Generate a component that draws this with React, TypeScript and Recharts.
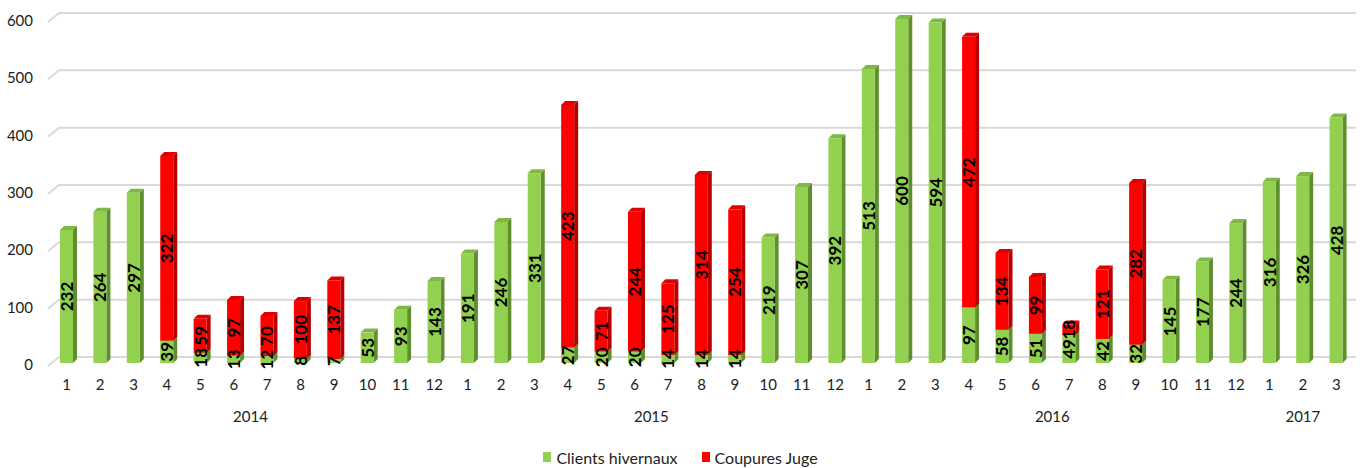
import { Bar, BarChart, CartesianGrid, LabelList, Legend, XAxis, YAxis } from "recharts";

// months shown on the axis, grouped by year
const years = ["2014", "2015", "2016", "2017"];
const monthsPerYear = [12, 12, 12, 3];

const clientsHivernaux = [
  232, 264, 297, 39, 18, 13, 12, 8, 7, 53, 93, 143,
  191, 246, 331, 27, 20, 20, 14, 14, 14, 219, 307, 392,
  513, 600, 594, 97, 58, 51, 49, 42, 32, 145, 177, 244,
  316, 326, 428,
];
const coupuresJuge = [
  0, 0, 0, 322, 59, 97, 70, 100, 137, 0, 0, 0,
  0, 0, 0, 423, 71, 244, 125, 314, 254, 0, 0, 0,
  0, 0, 0, 472, 134, 99, 18, 121, 282, 0, 0, 0,
  0, 0, 0,
];
const yTicks = [0, 100, 200, 300, 400, 500, 600];

const data: any[] = [];
years.forEach((year, yi) => {
  for (let m = 1; m <= monthsPerYear[yi]; m++) {
    const i = data.length;
    data.push({
      key: `${year}-${m}`,
      month: String(m),
      year,
      pos: m - 1,
      count: monthsPerYear[yi],
      clients: clientsHivernaux[i],
      coupures: coupuresJuge[i] || null,
    });
  }
});

// the chart fills the whole page (pinned to the top-left corner)
const W = 1360;
const H = 468;
const margin = { top: 19, right: 7, left: 8, bottom: 0 };
const Y_AXIS_W = 42;
const step = (W - margin.left - margin.right - Y_AXIS_W) / data.length;
const DEPTH = 4;
const font = "Lato, 'Open Sans', sans-serif";

const box = (front: string, side: string, top: string) => (props: any) => {
  const { x, y, width, height } = props;
  if (!height || height <= 0) return null;
  const d = DEPTH;
  return (
    <g>
      <polygon
        points={`${x},${y} ${x + d},${y - d} ${x + width + d},${y - d} ${x + width},${y}`}
        fill={top}
      />
      <polygon
        points={`${x + width},${y} ${x + width + d},${y - d} ${x + width + d},${y + height - d} ${x + width},${y + height}`}
        fill={side}
      />
      <rect x={x} y={y} width={width} height={height} fill={front} />
    </g>
  );
};

const ValueLabel = (props: any) => {
  const { x, y, width, height, value } = props;
  if (!value) return null;
  const cx = x + width / 2;
  const cy = y + height / 2;
  return (
    <text
      x={cx}
      y={cy}
      transform={`rotate(-90 ${cx} ${cy})`}
      textAnchor="middle"
      dominantBaseline="central"
      fontFamily={font}
      fontWeight={700}
      fontSize={17}
      fill="#000"
    >
      {value}
    </text>
  );
};

const MonthTick = (props: any) => {
  const { x, y, payload, index } = props;
  const row = data[index];
  const yearX = x + ((row.count - 1) / 2 - row.pos) * step;
  return (
    <g>
      <text x={x} y={y + 13} textAnchor="middle" dominantBaseline="central" fontFamily={font} fontSize={15} fill="#222">
        {payload.value}
      </text>
      {row.pos === 0 && (
        <text x={yearX} y={y + 45} textAnchor="middle" dominantBaseline="central" fontFamily={font} fontSize={15} fill="#222">
          {row.year}
        </text>
      )}
    </g>
  );
};

const ValueTick = (props: any) => {
  const { x, y, payload } = props;
  return (
    <text x={x - 9} y={y + 1} textAnchor="end" dominantBaseline="central" fontFamily={font} fontSize={15} fill="#222">
      {payload.value}
    </text>
  );
};

const GridLine = (props: any) => {
  const { x1, x2, y1 } = props;
  const by = y1 - 6;
  return (
    <g key={`g-${y1}`}>
      <line x1={x1 - 2} y1={y1 + 3} x2={x1 + 9} y2={by} stroke="#d9d9d9" strokeWidth={2} />
      <line x1={x1 + 9} y1={by} x2={x2 + 3} y2={by} stroke="#d9d9d9" strokeWidth={2} />
    </g>
  );
};

const LegendContent = () => (
  <div
    style={{
      display: "flex",
      justifyContent: "center",
      alignItems: "center",
      height: 20,
      fontFamily: font,
      fontSize: 16,
      color: "#222",
    }}
  >
    {[
      { name: "Clients hivernaux", color: "#92d050" },
      { name: "Coupures Juge", color: "#ff0000" },
    ].map((it, i) => (
      <span key={it.name} style={{ display: "inline-flex", alignItems: "center", marginLeft: i ? 24 : 0 }}>
        <span style={{ width: 8, height: 10, background: it.color, display: "inline-block", marginRight: 5 }} />
        {it.name}
      </span>
    ))}
  </div>
);

export default function App() {
  return (
    <div style={{ position: "absolute", left: 0, top: 0, width: W, height: H, overflow: "hidden" }}>
      <BarChart width={W} height={H} data={data} margin={margin} barSize={13}>
        <CartesianGrid vertical={false} horizontal={GridLine as any} />
        <XAxis
          dataKey="key"
          height={85}
          axisLine={false}
          tickLine={false}
          interval={0}
          tick={(p: any) => <MonthTick {...p} payload={{ value: data[p.index].month }} />}
        />
        <YAxis
          width={Y_AXIS_W}
          domain={[0, 600]}
          ticks={yTicks}
          axisLine={false}
          tickLine={false}
          tick={<ValueTick />}
        />
        <Legend verticalAlign="bottom" height={20} wrapperStyle={{ bottom: 1 }} content={<LegendContent />} />
        <Bar
          dataKey="clients"
          stackId="a"
          name="Clients hivernaux"
          fill="#92d050"
          shape={box("#92d050", "#5f8f2c", "#7fb844")}
          isAnimationActive={false}
        >
          <LabelList dataKey="clients" content={<ValueLabel />} />
        </Bar>
        <Bar
          dataKey="coupures"
          stackId="a"
          name="Coupures Juge"
          fill="#ff0000"
          shape={box("#ff0000", "#b80000", "#e00000")}
          isAnimationActive={false}
        >
          <LabelList dataKey="coupures" content={<ValueLabel />} />
        </Bar>
      </BarChart>
    </div>
  );
}
